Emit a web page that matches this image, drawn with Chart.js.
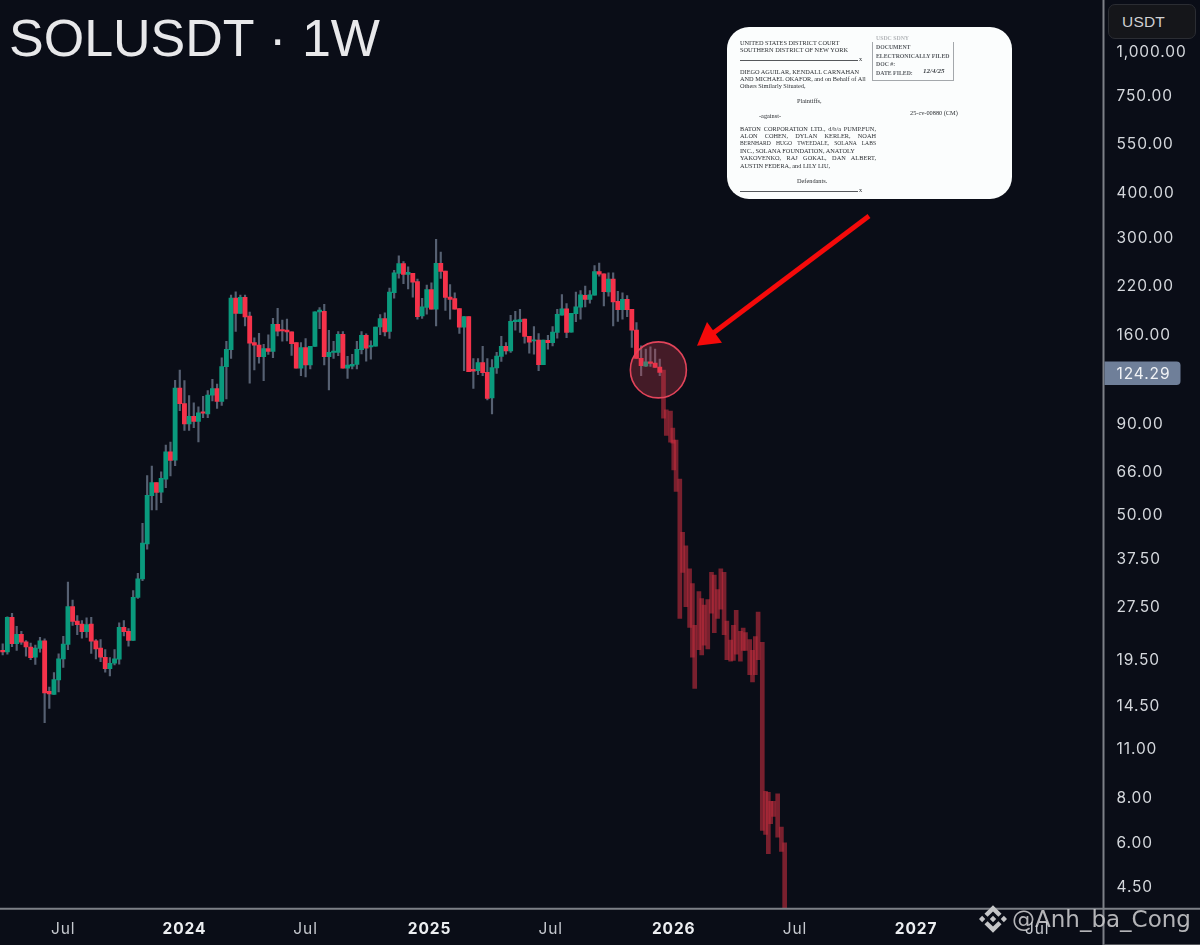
<!DOCTYPE html>
<html>
<head>
<meta charset="utf-8">
<script src="https://cdn.jsdelivr.net/npm/chart.js@4/dist/chart.umd.min.js"></script>
<style>
    html, body { margin: 0; padding: 0; background: #0a0d17; }
    #wrap { position: relative; width: 1200px; height: 945px; overflow: hidden; }
    #chart { position: absolute; left: 0; top: 0; }
    #title { position: absolute; left: 9px; top: 8px; font: 52px/60px "Liberation Sans"; word-spacing: 1px; color: #e8e8ea; white-space: nowrap; filter: blur(.4px); }
    #unit { position: absolute; left: 1108px; top: 4px; width: 88px; height: 35px; box-sizing: border-box; background: #15161a; border: 1px solid #2b2d33; border-radius: 7px; font: 15.5px/34px "Liberation Sans"; color: #cfd0d3; padding-left: 13px; letter-spacing: .2px; }
    #card { position: absolute; left: 727px; top: 27px; width: 285px; height: 172px; background: #fbfdfd; border-radius: 22px; filter: blur(.3px); }
    #card div { position: absolute; white-space: nowrap; font: 6.3px/7px "Liberation Serif"; color: #2c2f33; }
    #card .just { width: 136px; text-align: justify; text-align-last: justify; white-space: normal; }
    #card .rule { height: 1px; width: 118px; background: #55585c; }
    #card .stampline { font-size: 5.8px; font-weight: bold; color: #5b5f64; }
    #stamp { left: 145px; top: 15px; width: 82px; height: 39px; box-sizing: border-box; border: 1.5px solid #a4a8ac; border-top: none; }
    #mark { position: absolute; left: 1012px; top: 904px; font: 23px/30px "DejaVu Sans"; color: rgba(208,208,211,.86); white-space: nowrap; }
    #logo { position: absolute; left: 979px; top: 905px; width: 28px; height: 28px; }
</style>
</head>
<body>
<div id="wrap">
    <canvas id="chart" width="1200" height="945"></canvas>
    <div id="title">SOLUSDT · 1W</div>
    <div id="unit">USDT</div>
    <div id="card">
        <div style="left:13px;top:12px">UNITED STATES DISTRICT COURT</div>
        <div style="left:13px;top:19px">SOUTHERN DISTRICT OF NEW YORK</div>
        <div class="rule" style="left:13px;top:33px"></div>
        <div style="left:132px;top:28px">x</div>
        <div style="left:13px;top:41px">DIEGO AGUILAR, KENDALL CARNAHAN</div>
        <div style="left:13px;top:48px">AND MICHAEL OKAFOR, and on Behalf of All</div>
        <div style="left:13px;top:55px">Others Similarly Situated,</div>
        <div style="left:70px;top:70px">Plaintiffs,</div>
        <div style="left:32px;top:85px">-against-</div>
        <div style="left:183px;top:82px">25-cv-00880 (CM)</div>
        <div class="just" style="left:13px;top:98px">BATON CORPORATION LTD., d/b/a PUMP.FUN,</div>
        <div class="just" style="left:13px;top:105px">ALON COHEN, DYLAN KERLER, NOAH</div>
        <div class="just" style="left:13px;top:113px;font-size:5.6px">BERNHARD HUGO TWEEDALE, SOLANA LABS</div>
        <div style="left:13px;top:120px">INC., SOLANA FOUNDATION, ANATOLY</div>
        <div class="just" style="left:13px;top:127px">YAKOVENKO, RAJ GOKAL, DAN ALBERT,</div>
        <div style="left:13px;top:135px">AUSTIN FEDERA, and LILY LIU,</div>
        <div style="left:70px;top:150px">Defendants.</div>
        <div class="rule" style="left:13px;top:164px"></div>
        <div style="left:132px;top:159px">x</div>
        <div id="stamp"></div>
        <div class="stampline" style="left:149px;top:8px;color:#b4b7ba">USDC SDNY</div>
        <div class="stampline" style="left:149px;top:17px">DOCUMENT</div>
        <div class="stampline" style="left:149px;top:26px">ELECTRONICALLY FILED</div>
        <div class="stampline" style="left:149px;top:34px">DOC #:</div>
        <div class="stampline" style="left:149px;top:43px">DATE FILED:</div>
        <div class="stampline" style="left:196px;top:41px;font-style:italic;font-size:7px;color:#3f4348">12/4/25</div>
    </div>
    <svg id="logo" viewBox="0 0 126 126"><path fill="#c4c5c7" d="M38.73 53.2 63 28.9l24.3 24.3 14.1-14.1L63 .7 24.6 39.1zM0 63l14.1-14.1L28.2 63l-14.1 14.1zM38.73 72.8 63 97.1l24.3-24.3 14.1 14.1L63 125.3 24.6 86.9zM97.8 63l14.1-14.1L126 63l-14.1 14.1zM77.3 63 63 48.7 48.7 63 63 77.3z"/></svg>
    <div id="mark">@Anh_ba_Cong</div>
</div>

<script>
// Weekly candles, one entry per week from the left edge
const opens = [
    20.6,20.4,25.5,21.5,22.85,21.75,21.05,19.7,20.85,21.9,
    15.8,15.5,17.0,19.5,21.4,27.35,24.9,24.4,23.25,24.4,
    21.9,20.9,19.7,18.3,18.95,19.45,23.9,23.3,21.95,29.0,
    32.7,41.0,56.0,60.9,57.3,62.3,74.4,70.4,112.3,101.5,
    89,93.6,90.5,96.3,95,107.2,112,103,129,144,
    200.8,182,202,179,150.8,148.2,137.5,145,142.3,169.7,
    163.9,163.5,161.5,150.8,127.8,146,130.4,147,183.8,184.5,
    137.5,141.4,141.4,158.9,127.8,129.4,130.9,144,158,146.6,
    147.2,166.7,175.9,162,208,235.8,251,234.2,235.8,223.6,
    179.1,189.3,212.4,186.9,251.6,239.2,202.2,200.2,187.9,166.6,
    178.4,126.7,125.6,132.5,124.3,105.4,128,137.8,147.2,142.8,
    172.6,172.6,175.3,157,152.4,153.1,130.6,152.8,150.5,160.9,
    179.8,187.4,161.2,181.6,189.6,204.7,199.3,204.7,238.7,235.2,
    209,227.4,196.8,186.5,199.3,186.9,163.5,136,129.4,133.1,
    131.9,128.7
];
const closes = [
    20.4,25.5,21.5,22.85,21.7,21.05,19.65,20.9,21.9,15.65,
    15.55,17.05,19.5,21.45,27.35,24.85,24.3,23.25,24.35,21.85,
    20.8,19.7,18.3,18.95,19.5,23.9,23.25,21.95,29.0,32.7,
    41.2,56.1,60.9,57.2,62.6,74.4,70.3,112.3,101.5,89,
    93.6,90.5,95.7,95.5,107.3,112,103,129,144.2,200.8,
    181.9,202,177.8,150.2,148.2,137.5,145,142.3,169.7,162.3,
    162.6,161.5,149.6,127.8,146,130.4,147.2,184,185.8,137.5,
    141.4,142.6,158.9,127.8,130.3,130.9,144.2,158,145.4,147.8,
    166.7,175.9,161.5,208.9,236.7,251,234.2,237.2,222.7,178.3,
    189.8,212.4,186.9,251.6,238.7,201.7,199.3,186.9,166.6,178.4,
    124.9,125.3,132.5,124,105,128.3,138.1,147.2,142.8,173,
    174.2,174.9,156.7,151.1,153.4,130.6,153.1,150.5,161.2,181,
    187.4,160.9,182,190,205.2,199.3,205.2,238.7,234.7,209.3,
    227.4,195.9,186.5,199.3,186.5,163.2,136,129.7,133.1,131.6,
    128.4,124.29
];
const lows = [
    20,20.1,21.1,20.6,21.4,19.85,19.4,18.8,20.35,12.9,
    14.15,15.5,15.75,18.45,20.7,24.2,22.8,22.3,22.4,20.2,
    19.5,19.15,17.9,17.45,18.75,18.85,22.6,21.15,21.95,28.8,
    32.3,39.6,51.1,51.1,53.5,59,63.6,68,97.1,85.4,
    85.4,86.9,79.3,92.8,92.8,103.4,98.5,100.3,104.7,136,
    162,182,167.9,116,126.2,131.9,117.8,139.5,136.6,157.4,
    152,152.4,138.8,127.8,121.6,120.6,127,147,165,130.4,
    110.9,136,138.4,127.8,119.6,127,127,140,133.6,135.4,
    147.2,158.5,157.4,154.7,200.8,228.6,220.6,213.3,202.2,175.3,
    176.2,181,186.9,167.9,228.1,185.5,175.3,186.9,159.8,125.6,
    124.9,112.1,122.4,121.6,104,95,123.5,133.4,139.9,141.4,
    163.2,160.9,150.2,140.8,139.9,125.6,130.6,144.5,147.5,155,
    179.8,155.6,161.2,172.6,175.3,189.7,194.3,204.7,231.6,190.9,
    203.4,167.9,172.9,175.3,178.3,146,136,121.6,129.1,129.1,
    128.4,121.6
];
const highs = [
    21.5,25.6,26.15,24.05,23.3,21.95,21.6,21.3,22.4,22.2,
    16.25,17.85,20.15,22.55,32.05,28.5,25.8,24.95,25.4,25.5,
    22.1,22.1,20.7,19.65,20.7,24.6,24.95,23.7,30.3,33.9,
    46.8,63.8,67.8,60.9,65.3,77.7,79.2,118,126.2,117.8,
    107,102,99.4,106.5,110.5,118.8,115.2,136.6,152,204.8,
    209.2,205,205,183.6,155.5,160,149,158.5,176.4,188,
    174.2,175.3,161.5,150.8,150.8,154.7,147.2,184,188.9,193,
    163.2,152,161.9,161.9,137.8,139.6,152,161.9,159.5,152.4,
    166.7,180.6,182.8,214.3,240.3,263.9,254.5,246,235.8,227.4,
    200.5,218.4,221.8,294,270.7,239.2,219.4,208,187.9,178.4,
    178.4,135.9,135.9,147,135.9,135,141.4,156.8,150.8,179.8,
    184.4,186.9,175.3,157,167.2,159.8,153.1,158,167.2,186.9,
    205.5,194,182,208.9,210.8,217.1,210.8,248,252.1,235.2,
    236.7,236.7,210,208,204.3,186.9,171.5,147.5,144.5,146.6,
    144.5,135.4
];

// Pasted projection: overlapping translucent bars, not on whole weeks
const projWeeks = [
    141.8,142.4,143.3,143.8,144,144.5,145.3,145.9,146.6,147.4,
    148,148.5,149.4,150,150.5,151.3,152.1,152.7,153.4,154.1,
    154.8,155.4,156.2,156.8,157.4,158.3,158.9,159.4,160.3,160.9,
    161.5,162.1,163,163.7,164.3,164.8,165.4,166.3,167.1,167.8
];
const projHighs = [
    126.2,97.6,96.7,86.7,80.2,80.2,62.3,44.2,40.5,34.9,
    31.7,24.2,30.1,28.8,27.6,28.6,34.1,33.5,30.5,34.9,
    34.1,24.9,22,24.2,26.7,23.3,23.8,23.1,22.1,20.6,
    22.5,26.4,21.7,8.28,8.23,7.76,7.76,8.15,6.57,5.93
];
const projLows = [
    92.5,82.7,79.2,78.7,66.2,57.6,25.3,34.1,27.3,23.9,
    19.7,16.1,20.7,20,21.3,20.8,26.2,23.1,25.3,26.9,
    22.8,19.4,19.2,19.3,20.1,19.2,20.6,20.6,17.6,16.8,
    17.6,19.4,6.43,6.26,5.53,6.72,7.04,6.15,5.61,3.8
];

const priceTicks = [1000,750,550,400,300,220,160,90,66,50,37.5,27.5,19.5,14.5,11,8,6,4.5];
const weekTicks = [13,39,65,91.6,117.6,144,170,196,222];
const weekLabels = ['Jul','2024','Jul','2025','Jul','2026','Jul','2027','Jul'];
const lastPrice = 124.29;
const circleWeek = 140.7;
const circlePrice = 126.3;

const GREEN = '#0a9a7d';
const RED = '#f5324a';
const AXIS_X = 1103.5;
const AXIS_Y = 908.7;

// the year labels are bold, the months are not
function isYearTick(ctx) {
    return !!ctx.tick && /^\d/.test(weekLabels[weekTicks.indexOf(ctx.tick.value)]);
}

// Circle, arrow, axis lines and the last price tag
const overlay = {
    id: 'overlay',
    beforeDraw(chart) {
        chart.ctx.letterSpacing = '0.9px';
    },
    afterDatasetsDraw(chart) {
        const ctx = chart.ctx;
        const cx = chart.scales.x.getPixelForValue(circleWeek);
        const cy = chart.scales.y.getPixelForValue(circlePrice);
        ctx.save();
        ctx.beginPath();
        ctx.arc(cx, cy, 28, 0, Math.PI * 2);
        ctx.fillStyle = 'rgba(205,60,75,0.3)';
        ctx.fill();
        ctx.lineWidth = 1.6;
        ctx.strokeStyle = '#e2445a';
        ctx.stroke();

        ctx.beginPath();
        ctx.moveTo(869, 216);
        ctx.lineTo(712, 334);
        ctx.lineWidth = 4.8;
        ctx.strokeStyle = '#f50a0a';
        ctx.stroke();
        ctx.beginPath();
        ctx.moveTo(697, 345.7);
        ctx.lineTo(707, 322);
        ctx.lineTo(722, 342.7);
        ctx.closePath();
        ctx.fillStyle = '#f50a0a';
        ctx.fill();
        ctx.restore();
    },
    afterDraw(chart) {
        const ctx = chart.ctx;
        const y = chart.scales.y.getPixelForValue(lastPrice);
        ctx.save();
        ctx.strokeStyle = '#7d8087';
        ctx.lineWidth = 2;
        ctx.beginPath();
        ctx.moveTo(0, AXIS_Y);
        ctx.lineTo(1200, AXIS_Y);
        ctx.moveTo(AXIS_X, 0);
        ctx.lineTo(AXIS_X, 945);
        ctx.stroke();
        ctx.lineWidth = 1;
        ctx.strokeStyle = '#54565c';
        ctx.beginPath();
        ctx.moveTo(AXIS_X, 944.5);
        ctx.lineTo(1200, 944.5);
        ctx.stroke();

        ctx.fillStyle = '#6f7f99';
        ctx.beginPath();
        ctx.roundRect(AXIS_X + 1, y - 11, 76, 23.5, [0, 4, 4, 0]);
        ctx.fill();
        ctx.fillStyle = '#f0f2f5';
        ctx.font = '15.5px Inter';
        ctx.textAlign = 'left';
        ctx.textBaseline = 'middle';
        ctx.fillText(lastPrice.toFixed(2), 1116.5, y + 2);
        ctx.restore();
    }
};

const weekIndex = opens.map((v, i) => i);

new Chart(document.getElementById('chart').getContext('2d'), {
    type: 'bar',
    data: {
        datasets: [
            {
                // candle bodies
                data: weekIndex.map(i => ({ x: i, y: [opens[i], closes[i]] })),
                backgroundColor: weekIndex.map(i => closes[i] >= opens[i] ? GREEN : RED),
                barThickness: 4.2,
                grouped: false,
                order: 1
            },
            {
                // wicks
                data: weekIndex.map(i => ({ x: i, y: [lows[i], highs[i]] })),
                backgroundColor: '#566072',
                barThickness: 1.5,
                grouped: false,
                order: 2
            },
            {
                data: projWeeks.map((w, i) => ({ x: w, y: [projLows[i], projHighs[i]] })),
                backgroundColor: 'rgba(195,45,62,0.6)',
                barThickness: 4,
                grouped: false,
                order: 3
            }
        ]
    },
    options: {
        responsive: false,
        animation: false,
        layout: { padding: 0 },
        plugins: {
            legend: { display: false },
            tooltip: { enabled: false }
        },
        scales: {
            x: {
                type: 'linear',
                offset: false,
                min: -0.58,
                max: 236.22,
                grid: { display: false, drawTicks: false },
                border: { display: false },
                afterBuildTicks: axis => { axis.ticks = weekTicks.map(v => ({ value: v })); },
                afterFit: axis => {
                    axis.height = 945 - AXIS_Y;
                    axis.paddingLeft = 0;
                    axis.paddingRight = 0;
                },
                ticks: {
                    autoSkip: false,
                    maxRotation: 0,
                    padding: 11,
                    color: ctx => isYearTick(ctx) ? '#eceef1' : '#c6c9cf',
                    font: ctx => ({ family: 'Inter', size: 15.5, weight: isYearTick(ctx) ? 'bold' : 'normal' }),
                    callback: value => weekLabels[weekTicks.indexOf(value)]
                }
            },
            y: {
                type: 'logarithmic',
                position: 'right',
                min: 3.875,
                max: 1381,
                grid: { display: false, drawTicks: false },
                border: { display: false },
                afterBuildTicks: axis => { axis.ticks = priceTicks.map(v => ({ value: v })); },
                afterFit: axis => {
                    axis.width = 1200 - AXIS_X;
                    axis.paddingTop = 0;
                    axis.paddingBottom = 0;
                },
                ticks: {
                    autoSkip: false,
                    padding: 13,
                    labelOffset: 2,
                    color: '#d4d7dc',
                    font: { family: 'Inter', size: 15.5 },
                    callback: value => value.toLocaleString('en-US', { minimumFractionDigits: 2, maximumFractionDigits: 2 })
                }
            }
        }
    },
    plugins: [overlay]
});
</script>
</body>
</html>
